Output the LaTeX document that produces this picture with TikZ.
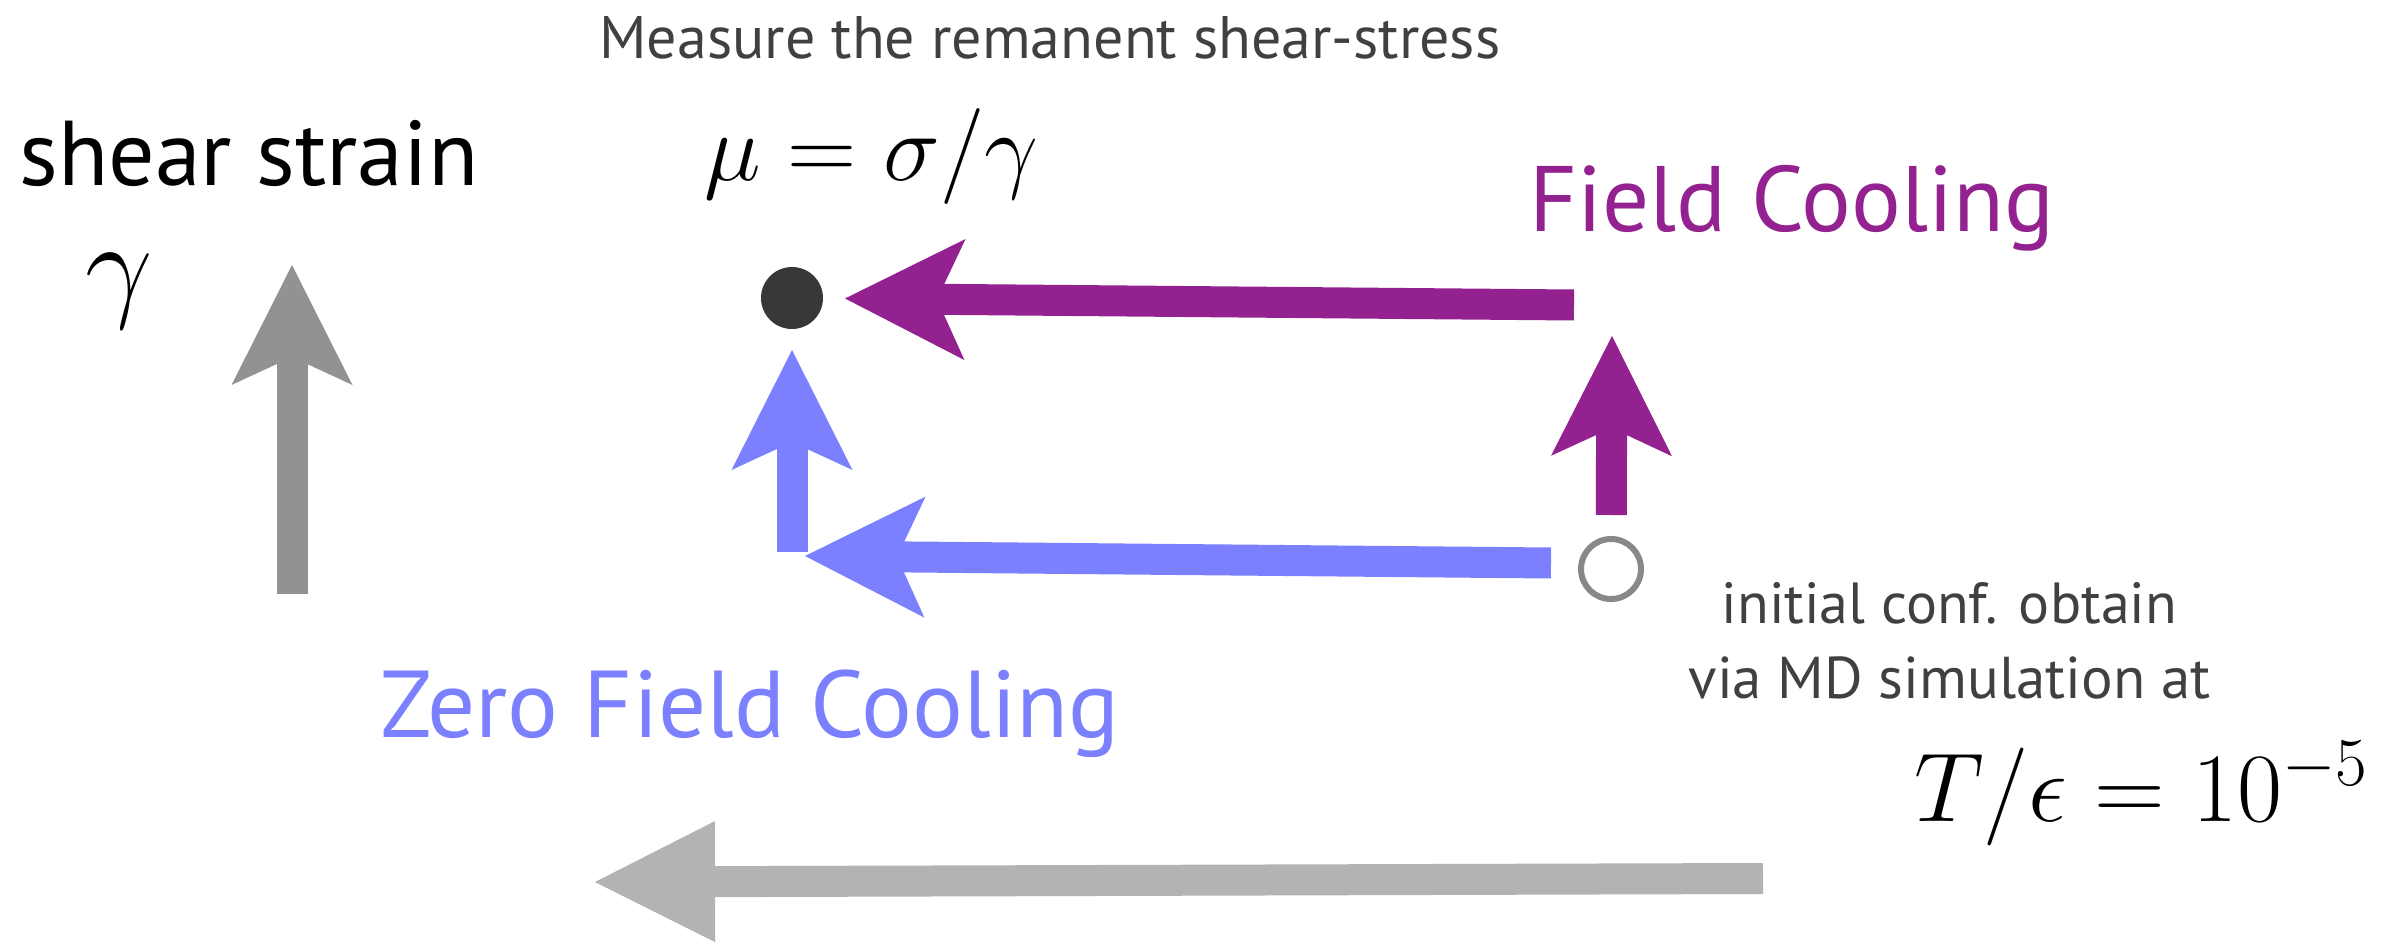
\RequirePackage{fix-cm}
\documentclass[tikz,border=0pt]{standalone}
\usepackage{fontspec}
\setmainfont{PT Sans}
\usetikzlibrary{arrows.meta}
\definecolor{fcpurple}{RGB}{147,33,143}
\definecolor{zfcblue}{RGB}{123,128,255}
\definecolor{axisgray}{RGB}{146,146,146}
\definecolor{lightgray}{RGB}{179,179,179}
\definecolor{dotgray}{RGB}{56,56,56}
\definecolor{ringgray}{RGB}{136,136,136}
\definecolor{textgray}{RGB}{64,64,64}
\tikzset{
  headtip/.style={-{Stealth[length=60pt,width=60.5pt,inset=14pt,line width=0pt]}},
  flattip/.style={-{Stealth[length=60pt,width=60.5pt,inset=0pt,line width=0pt]}},
  fatline/.style={line width=15.5pt},
  fcline/.style={fatline,headtip,color=fcpurple},
  zfcline/.style={fatline,headtip,color=zfcblue},
  axisline/.style={fatline,headtip,color=axisgray},
  tline/.style={fatline,flattip,color=lightgray},
  dotstyle/.style={circle,fill=dotgray,minimum size=31pt,inner sep=0pt,outer sep=0pt},
  ringstyle/.style={circle,draw=ringgray,line width=3pt,minimum size=30pt,inner sep=0pt},
  label/.style={inner sep=0pt,anchor=base}
}
\begin{document}
\begin{tikzpicture}[x=0.5pt,y=-0.5pt]
\useasboundingbox (0,0) rectangle (2405,947);
% nodes
\node[dotstyle] (dot) at (792,298) {};
\node[ringstyle] (init) at (1611,569) {};
\coordinate (fcstart) at (1574,305);
\coordinate (fctip) at (1612,336);
\coordinate (zfctip) at (805,556);
\coordinate (zfcup) at (792,552);
\coordinate (gyb) at (292,594);
\coordinate (gyt) at (292,265);
\coordinate (gxs) at (1763,878.5);
\coordinate (gxe) at (595,882);
% connectors
\draw[fcline,shorten >=11pt] (fcstart) -- (dot);
\draw[fcline,shorten <=10.5pt] (init) -- (fctip);
\draw[zfcline] ([shift={(-27,-6)}]init.west) -- (zfctip);
\draw[zfcline,shorten >=10.5pt] (zfcup) -- (dot);
\draw[axisline] (gyb) -- (gyt);
\draw[tline] (gxs) -- (gxe);
% texts
\node[label,text=textgray,font=\fontsize{30}{36}\selectfont] (measure) at (1050,58.5) {Measure the remanent shear-stress};
\node[label,anchor=base west,font=\fontsize{46}{55}\selectfont] (shear) at (19,185) {shear strain};
\node[label,font=\fontsize{60}{72}\selectfont] (gam) at (119.5,305) {$\gamma$};
\node[label,font=\fontsize{48}{58}\selectfont] (mu) at (871.5,180) {$\mu=\sigma/\gamma$};
\node[label,text=fcpurple,font=\fontsize{46.5}{56}\selectfont] (fc) at (1791.5,231) {Field Cooling};
\node[label,text=zfcblue,font=\fontsize{47.5}{56}\selectfont] (zfc) at (750,737) {Zero Field Cooling};
\node[label,text=textgray,font=\fontsize{29}{35}\selectfont] (ini1) at (1949.5,623) {initial conf. obtain};
\node[label,text=textgray,font=\fontsize{29.5}{35}\selectfont] (ini2) at (1949.5,698) {via MD simulation at};
\node[label,font=\fontsize{49}{59}\selectfont] (temp) at (2141,821) {$T/\epsilon=10^{-5}$};
\end{tikzpicture}
\end{document}
